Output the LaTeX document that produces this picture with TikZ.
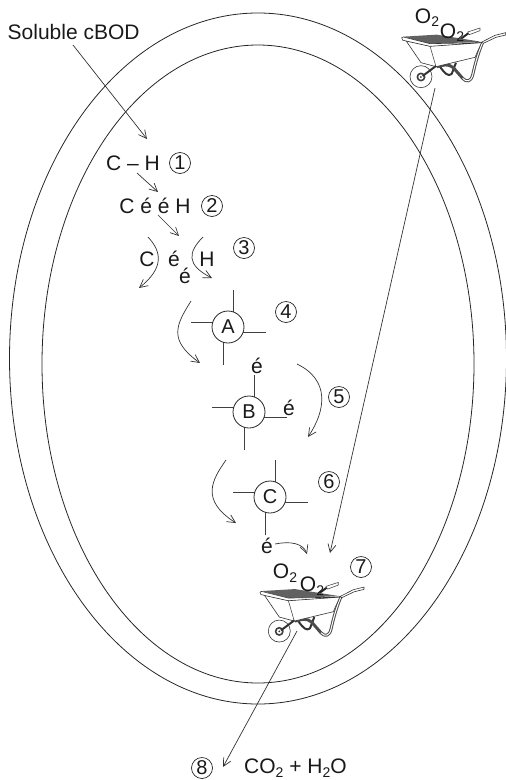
\documentclass[tikz,border=0pt]{standalone}
\usepackage{fontspec}
\setmainfont{Liberation Sans}
\usetikzlibrary{arrows.meta}
\newcommand{\subtwo}{\raisebox{-.3ex}{\fontsize{14}{14}\selectfont 2}}
\tikzset{
  wall/.style={draw=black!85,line width=0.8pt},
  flow/.style={draw=black!80,line width=0.7pt,-{Straight Barb[length=8pt,width=8pt]}},
  lab/.style={inner sep=0pt,font=\fontsize{21}{24}\selectfont,text=black!90},
  num/.style={circle,draw=black!85,line width=0.7pt,minimum size=21pt,inner sep=0pt,font=\fontsize{20}{22}\selectfont,text=black!90},
  hub/.style={circle,draw=black!85,fill=white,line width=0.8pt,minimum size=32pt,inner sep=0pt,font=\fontsize{20}{22}\selectfont,text=black!90},
  spoke/.style={draw=black!75,line width=0.9pt},
}
% Enzyme disc with its four offset spokes
\newcommand{\enzyme}[3]{%
  \draw[spoke] ({#2+5},{#3-37}) -- ({#2+5},#3);
  \draw[spoke] ({#2-37},{#3-5}) -- (#2,{#3-5});
  \draw[spoke] ({#2+38},{#3+5}) -- (#2,{#3+5});
  \draw[spoke] ({#2-5},{#3+38}) -- ({#2-5},#3);
  \node[hub] (#1) at (#2,#3) {#1};
}
% Wheelbarrow drawn in a 1/3-unit grid
\newcommand{\barrow}[2]{%
  \begin{scope}[shift={(#1,#2)},x=0.3333pt,y=-0.3333pt,line join=round]
    % far handle
    \draw[black!85,line width=2pt] (355,122) -- (385,100);
    \draw[black!70,fill=white,line width=0.6pt] (383,96) -- (420,84) -- (420,92) -- (388,104) -- cycle;
    % frame legs behind the tray
    \draw[black!80,line width=2pt] (300,200) .. controls (315,222) and (325,230) .. (335,222) -- (348,188);
    \draw[black!70,line width=3pt] (428,127) .. controls (412,165) and (405,195) .. (398,225)
      .. controls (393,245) and (380,248) .. (368,235) -- (340,203) .. controls (325,190) and (310,195) .. (290,200);
    \draw[white,line width=1pt] (428,127) .. controls (412,165) and (405,195) .. (398,225)
      .. controls (393,245) and (380,248) .. (368,235);
    % tray body
    \draw[black!80,fill=white,line width=0.6pt] (198,122) -- (243,188) -- (288,200) -- (405,172) -- (425,127) -- (270,138) -- cycle;
    \draw[black!70,line width=0.6pt] (270,138) -- (288,200);
    % load and rim
    \fill[black!62] (190,110) -- (290,104) -- (422,125) -- (272,132) -- cycle;
    \draw[black!80,fill=white,line width=0.6pt] (185,113) .. controls (183,120) and (190,122) .. (198,123)
      -- (270,139) -- (426,128) -- (270,131) -- (190,111) -- cycle;
    % near handle
    \draw[black!80,fill=white,line width=0.6pt] (426,126) -- (465,106) -- (497,98) -- (497,105) -- (468,112) -- (430,130) -- cycle;
    % wheel and axle
    \draw[black!80,line width=0.6pt,fill=white,fill opacity=0] (243,230) circle[radius=33];
    \draw[black!75,line width=1.6pt,fill=white] (243,231) circle[radius=11];
    \fill[black!80] (243,231) circle[radius=3];
    \draw[black!80,line width=2pt] (248,228) -- (288,198);
  \end{scope}
}
\begin{document}
\begin{tikzpicture}[x=1pt,y=-1pt]
  \useasboundingbox (0,0) rectangle (506,780);

  % Cell wall and membrane
  \draw[wall] (258,358.5) ellipse[x radius=248.5,y radius=345.5];
  \draw[wall] (258,364) ellipse[x radius=216,y radius=319];

  % Electron carriers
  \enzyme{A}{228}{327}
  \enzyme{B}{249}{412}
  \enzyme{C}{270}{497}

  % Labels
  \node[lab,anchor=west] (sol) at (7.5,32) {Soluble cBOD};
  \node[lab] (ch) at (133,163) {C – H};
  \node[num] (n1) at (180,163) {1};
  \node[lab] (cee) at (155,206) {C é é H};
  \node[num] (n2) at (212,206) {2};
  \node[lab] (c3) at (147,259) {C};
  \node[lab] (e3a) at (174,259) {é};
  \node[lab] (e3b) at (185,276) {é};
  \node[lab] (h3) at (207,259) {H};
  \node[num] (n3) at (244,248) {3};
  \node[num] (n4) at (286,312) {4};
  \node[lab] (eb1) at (257,366) {é};
  \node[lab] (eb2) at (289,408) {é};
  \node[num] (n5) at (339,397) {5};
  \node[num] (n6) at (329,482) {6};
  \node[lab] (ec) at (267,546) {é};
  \node[num] (n7) at (361,567) {7};
  \node[num] (n8) at (202,768) {8};
  \node[lab,anchor=west] (prod) at (244,768) {CO\subtwo{} + H\subtwo{}O};

  % Wheelbarrows with their oxygen load
  \barrow{340}{0}
  \barrow{198.3}{554.4}
  \node[lab] (o1) at (427,18) {O\subtwo};
  \node[lab] (o2) at (452,33) {O\subtwo};
  \node[lab] (o3) at (285,573) {O\subtwo};
  \node[lab] (o4) at (312,586) {O\subtwo};

  % Free ends of the connectors
  \coordinate (s1) at (73,45);    \coordinate (t1) at (147,139);
  \coordinate (s2) at (137,173);  \coordinate (t2) at (158,192);
  \coordinate (s3) at (158,215);  \coordinate (t3) at (179,236);
  \coordinate (s4) at (435,88);   \coordinate (t4) at (330,553);
  \coordinate (s5) at (297,631);  \coordinate (t5) at (223,767);

  % Straight connectors
  \draw[flow] (s1) -- (t1);
  \draw[flow] (s2) -- (t2);
  \draw[flow] (s3) -- (t3);
  \draw[flow] (s4) -- (t4);
  \draw[flow] (s5) -- (t5);

  % Curved connectors
  \draw[flow] (148,237) .. controls (162,252) and (164,268) .. (139,288);
  \draw[flow] (203,237) .. controls (188,252) and (186,265) .. (212,278);
  \draw[flow] (191,301) .. controls (176,325) and (168,340) .. (200,363);
  \draw[flow] (297,364) .. controls (330,380) and (326,410) .. (308,437);
  \draw[flow] (226,460) .. controls (212,480) and (200,500) .. (236,523);
  \draw[flow] (275,544) .. controls (290,541) and (303,543) .. (307,554);
\end{tikzpicture}
\end{document}
